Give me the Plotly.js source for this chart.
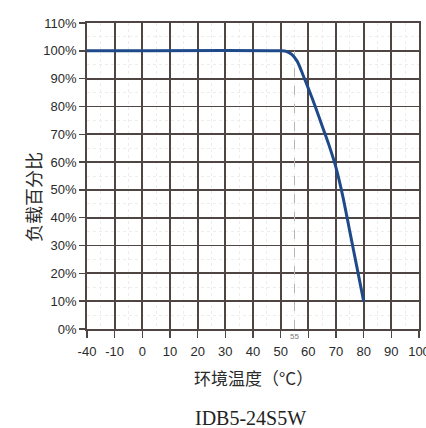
<!DOCTYPE html>
<html>
<head>
<meta charset="utf-8">
<script src="https://cdn.plot.ly/plotly-3.0.1.min.js"></script>
<style>
  html, body { margin: 0; padding: 0; background: #ffffff; }
  #chart { width: 426px; height: 428px; }
</style>
</head>
<body>
<div id="chart"></div>
<script>
// Derating curve: ambient temperature (°C) vs. load percentage (%)
const temperatures = [-40, 50, 52, 54, 56, 58, 60, 62.5, 65, 67.5, 70, 72.5, 75, 77.5, 80];
const loadPercent  = [100, 100, 99.8, 98.7, 96.2, 91.5, 86.5, 80, 73, 66, 58, 47.5, 35, 22.5, 10];

const xTickTemps = [-40, -10, 0, 10, 20, 30, 40, 50, 60, 70, 80, 90, 100];
const xTickText  = ['-40', '-10', '0', '10', '20', '30', '40', '50', '60', '70', '80', '90', '100'];
const yTickVals  = [0, 10, 20, 30, 40, 50, 60, 70, 80, 90, 100, 110];

const markTemp = 55;          // dashed reference temperature
const markRange = [0, 100];

const xTitle = '环境温度（°C）';
const yTitle = '负载百分比';
const chartTitle = 'IDB5-24S5W';

// The axis squeezes -40..-10 into a single grid step.
function toAxis(t) {
  return t >= -10 ? t : -10 - (-10 - t) / 3;
}

const gridColor = '#4f4543';
const tickFont = { family: 'Liberation Sans, Arial, sans-serif', size: 13, color: '#2a2a2a' };
const cjkFont = 'Noto Sans CJK SC, sans-serif';

const traces = [
  {
    x: [markTemp, markTemp].map(toAxis),
    y: markRange,
    mode: 'lines',
    line: { color: '#b5b5b5', width: 1, dash: 'dash' },
    hoverinfo: 'skip',
    showlegend: false,
    cliponaxis: false
  },
  {
    x: temperatures.map(toAxis),
    y: loadPercent,
    mode: 'lines',
    line: { color: '#1f4a8a', width: 3, shape: 'spline', smoothing: 0.7 },
    showlegend: false
  }
];

const axisCommon = {
  tickmode: 'array',
  ticks: 'outside',
  tickwidth: 1.5,
  tickcolor: gridColor,
  tickfont: tickFont,
  ticklabeloverflow: 'allow',
  showgrid: true,
  gridcolor: gridColor,
  gridwidth: 1.8,
  showline: true,
  linecolor: gridColor,
  linewidth: 1.8,
  mirror: true,
  zeroline: false,
  fixedrange: true,
  minor: { dtick: 5, showgrid: true, gridcolor: '#ededed', gridwidth: 1, griddash: 'dot' }
};

const layout = {
  width: 426,
  height: 428,
  margin: { l: 87, r: 7, t: 23, b: 99 },
  paper_bgcolor: '#ffffff',
  plot_bgcolor: '#ffffff',
  showlegend: false,
  xaxis: Object.assign({}, axisCommon, {
    range: [toAxis(-40), 100],
    tickvals: xTickTemps.map(toAxis),
    ticktext: xTickText,
    ticklen: 7,
    ticklabelstandoff: 3
  }),
  yaxis: Object.assign({}, axisCommon, {
    range: [0, 110],
    tickvals: yTickVals,
    ticktext: yTickVals.map(v => v + '%'),
    ticklen: 6
  }),
  annotations: [
    {
      x: toAxis(markTemp), y: 0, xref: 'x', yref: 'y',
      text: String(markTemp), showarrow: false,
      yanchor: 'top', yshift: -1,
      font: { family: 'Liberation Sans, Arial, sans-serif', size: 8, color: '#777777' }
    },
    {
      x: 0.503, y: -0.16, xref: 'paper', yref: 'paper',
      text: xTitle, showarrow: false,
      xanchor: 'center', yanchor: 'middle',
      font: { family: cjkFont, size: 17, color: '#2a2a2a' }
    },
    {
      x: -0.163, y: 0.431, xref: 'paper', yref: 'paper',
      text: yTitle, showarrow: false, textangle: -90,
      xanchor: 'center', yanchor: 'middle',
      font: { family: cjkFont, size: 18, color: '#2a2a2a' }
    },
    {
      x: 0.491, y: -0.291, xref: 'paper', yref: 'paper',
      text: chartTitle, showarrow: false,
      xanchor: 'center', yanchor: 'middle',
      font: { family: 'Liberation Serif, Times New Roman, serif', size: 20, color: '#222222' }
    }
  ]
};

Plotly.newPlot('chart', traces, layout, { displayModeBar: false, staticPlot: true });
</script>
</body>
</html>
